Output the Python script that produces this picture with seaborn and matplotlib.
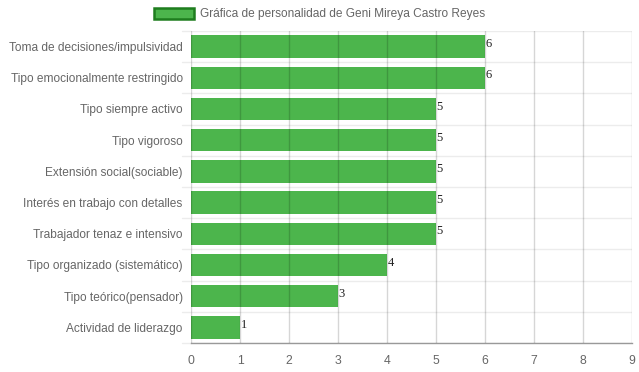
import numpy as np
import pandas as pd
import matplotlib
matplotlib.use("Agg")
import matplotlib.pyplot as plt
import seaborn as sns
from matplotlib.patches import Patch

categorias = [
    "Toma de decisiones/impulsividad",
    "Tipo emocionalmente restringido",
    "Tipo siempre activo",
    "Tipo vigoroso",
    "Extensión social(sociable)",
    "Interés en trabajo con detalles",
    "Trabajador tenaz e intensivo",
    "Tipo organizado (sistemático)",
    "Tipo teórico(pensador)",
    "Actividad de liderazgo",
]
valores = [6, 6, 5, 5, 5, 5, 5, 4, 3, 1]
x_ticks = list(range(0, 10))
titulo_leyenda = "Gráfica de personalidad de Geni Mireya Castro Reyes"

verde = "#4cb54c"
borde = "#1e7d1e"

df = pd.DataFrame({"categoria": categorias, "valor": valores})

sns.set_theme(style="white")
plt.rcParams["font.family"] = ["Liberation Sans", "DejaVu Sans"]

fig = plt.figure(figsize=(6.39, 3.72), dpi=100)
ax = fig.add_axes([191 / 639, 1 - 343 / 372, 441 / 639, 312 / 372])

sns.barplot(data=df, x="valor", y="categoria", orient="h", color=verde,
            saturation=1, width=0.72, linewidth=0, ax=ax, zorder=2)

ax.set_xlim(0, 9)
ax.set_ylim(len(categorias) - 0.5, -0.5)
ax.set_xticks(x_ticks)
ax.set_xticklabels([str(t) for t in x_ticks], fontsize=8.8, color="#666666")
ax.set_yticks(range(len(categorias)))
ax.set_yticklabels(categorias, fontsize=8.6, color="#666666")
ax.set_xlabel("")
ax.set_ylabel("")

# vertical grid, semi-transparent and drawn over the bars
for t in x_ticks:
    ax.axvline(t, color="black", alpha=0.16, lw=1, zorder=3)
# horizontal separators between categories (with small ticks left of axis)
for b in np.arange(-0.5, len(categorias), 1.0):
    ax.axhline(b, color="#ececec", lw=1, zorder=1)
    ax.plot([-0.18, 0], [b, b], color="#ececec", lw=1, clip_on=False, zorder=1)

for s in ["top", "right", "left"]:
    ax.spines[s].set_visible(False)
ax.spines["bottom"].set_color("#999999")
ax.spines["bottom"].set_linewidth(1)

ax.tick_params(axis="x", length=7, color="#cccccc", pad=2)
ax.tick_params(axis="y", length=0, pad=6)

for i, v in enumerate(valores):
    ax.text(v + 0.01, i - 0.08, str(v), ha="left", va="center", fontsize=9,
            family="Liberation Serif", color="#222222", zorder=4)

handle = Patch(facecolor=verde, edgecolor=borde, linewidth=1.8)
fig.legend([handle], [titulo_leyenda], loc="center", bbox_to_anchor=(0.5, 1 - 14 / 372),
           frameon=False, fontsize=8.6, handlelength=3.4, handleheight=1.1,
           labelcolor="#666666", handletextpad=0.5)

fig.savefig("out.png", dpi=100)
